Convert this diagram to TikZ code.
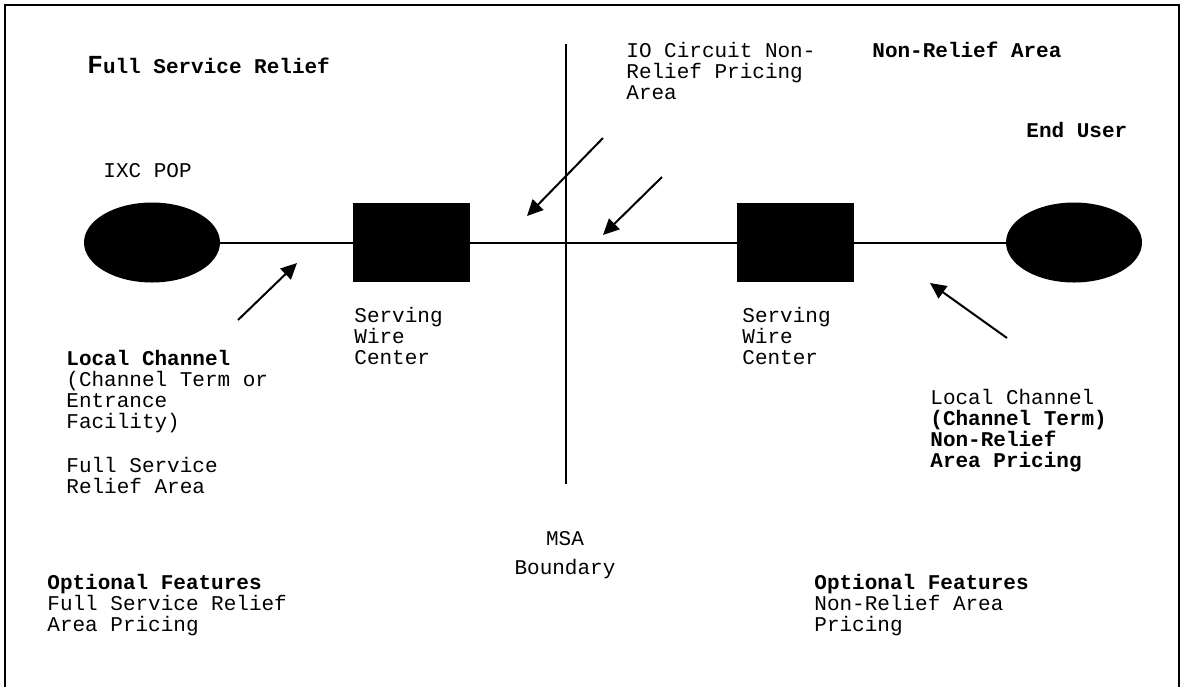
\documentclass[tikz,border=0pt]{standalone}
\usepackage{fontspec}
\setmainfont{Liberation Mono}
\usetikzlibrary{shapes.geometric,arrows.meta}

\begin{document}
\begin{tikzpicture}[x=0.5pt,y=-0.5pt,
    txt/.style={anchor=base west,inner sep=0pt,align=left,
        font=\fontsize{10.5}{10.5}\selectfont},
    txtb/.style={txt,font=\fontsize{10.5}{10.5}\selectfont\bfseries},
    site/.style={ellipse,fill=black,minimum width=68pt,minimum height=40pt,inner sep=0pt},
    office/.style={rectangle,fill=black,minimum width=58.5pt,minimum height=39.5pt,inner sep=0pt},
    wire/.style={line width=1pt},
    pointer/.style={line width=1pt,-{Triangle[length=8pt,width=7.5pt]}}]

    \useasboundingbox (0,0) rectangle (1183,687);
    % frame, open at the bottom
    \draw [line width=1pt] (5,687) -- (5,5) -- (1179,5) -- (1179,687);

    % circuit
    \node [site]   (pop)  at (152,242.5) {};
    \node [office] (swcL) at (411.5,242.5) {};
    \node [office] (swcR) at (795.5,242.5) {};
    \node [site]   (user) at (1074,242.5) {};
    \draw [wire] (pop) -- (swcL) -- (swcR) -- (user);

    % MSA boundary
    \coordinate (msaTop) at (566,44);
    \coordinate (msaBot) at (566,484);
    \draw [wire] (msaTop) -- (msaBot);

    % arrows
    \coordinate (ioA) at (603,138);  \coordinate (ioAt) at (527,216);
    \coordinate (ioB) at (662,177);  \coordinate (ioBt) at (603,235);
    \coordinate (lcL) at (238,320);  \coordinate (lcLt) at (297,263);
    \coordinate (lcR) at (1007,338); \coordinate (lcRt) at (930,283);
    \draw [pointer] (ioA) -- (ioAt);
    \draw [pointer] (ioB) -- (ioBt);
    \draw [pointer] (lcL) -- (lcLt);
    \draw [pointer] (lcR) -- (lcRt);

    % labels (multi-line ones sit on their last baseline)
    \node [txtb] (fsr) at (87,73) {{\fontsize{13}{13}\selectfont F}ull Service Relief};
    \node [txtb] (nra) at (872,57) {Non-Relief Area};
    \node [txtb] (eu)  at (1026,137) {End User};
    \node [txt]  (io)  at (626,99) {IO Circuit Non-\\Relief Pricing\\Area};
    \node [txt]  (ixc) at (103,177) {IXC POP};
    \node [txt]  (swcLtxt) at (354,364) {Serving\\Wire\\Center};
    \node [txt]  (swcRtxt) at (742,364) {Serving\\Wire\\Center};
    \node [txt]  (lcLtxt) at (66,493) {\textbf{Local Channel}\\(Channel Term or\\Entrance\\Facility)\\[11.5pt]Full Service\\Relief Area};
    \node [txt]  (lcRtxt) at (930,467) {Local Channel\\\textbf{(Channel Term)}\\\textbf{Non-Relief}\\\textbf{Area Pricing}};
    \node [txt,anchor=base,align=center] (msa) at (565,574) {MSA\\[4pt]Boundary};
    \node [txt]  (optL) at (47,631) {\textbf{Optional Features}\\Full Service Relief\\Area Pricing};
    \node [txt]  (optR) at (814,631) {\textbf{Optional Features}\\Non-Relief Area\\Pricing};

\end{tikzpicture}
\end{document}
